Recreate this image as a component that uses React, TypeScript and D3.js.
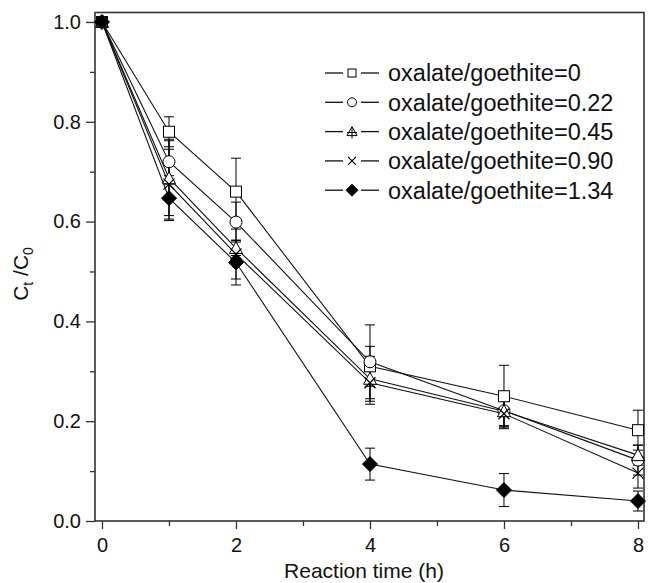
import React, { useEffect, useRef } from "react";
import * as d3 from "d3";

const times = [0, 1, 2, 4, 6, 8];
const seriesNames = [
  "oxalate/goethite=0",
  "oxalate/goethite=0.22",
  "oxalate/goethite=0.45",
  "oxalate/goethite=0.90",
  "oxalate/goethite=1.34",
];
const values0 = [1.0, 0.78, 0.66, 0.31, 0.25, 0.182];
const values1 = [1.0, 0.72, 0.599, 0.319, 0.221, 0.122];
const values2 = [1.0, 0.687, 0.547, 0.285, 0.22, 0.132];
const values3 = [1.0, 0.675, 0.535, 0.277, 0.215, 0.096];
const values4 = [1.0, 0.647, 0.518, 0.114, 0.062, 0.04];
const errors0 = [0, 0.03, 0.067, 0.04, 0.062, 0.04];
const errors1 = [0, 0.045, 0.04, 0.074, 0.03, 0.03];
const errors2 = [0, 0.075, 0.015, 0.045, 0.03, 0.02];
const errors3 = [0, 0.07, 0.05, 0.043, 0.03, 0.03];
const errors4 = [0, 0.045, 0.045, 0.032, 0.033, 0.02];
const markers = ["square", "circle", "triangle", "cross", "diamond"];
const xMajorTicks = [0, 2, 4, 6, 8];
const xMinorTicks = [1, 3, 5, 7];
const yMajorTicks = [0, 0.2, 0.4, 0.6, 0.8, 1.0];
const yMinorTicks = [0.1, 0.3, 0.5, 0.7, 0.9];

const allValues = [values0, values1, values2, values3, values4];
const allErrors = [errors0, errors1, errors2, errors3, errors4];

const W = 649;
const H = 583;
const FONT = "'Liberation Sans', Arial, sans-serif";

function drawMarker(g: any, type: string, cx: number, cy: number, s: number) {
  const stroke = "#000";
  if (type === "square") {
    g.append("rect").attr("x", cx - s / 2).attr("y", cy - s / 2).attr("width", s).attr("height", s)
      .attr("fill", "#fff").attr("stroke", stroke).attr("stroke-width", 1);
  } else if (type === "circle") {
    g.append("circle").attr("cx", cx).attr("cy", cy).attr("r", s / 2 + 0.5)
      .attr("fill", "#fff").attr("stroke", stroke).attr("stroke-width", 1);
  } else if (type === "triangle") {
    const h = s * 1.0;
    g.append("path")
      .attr("d", `M${cx},${cy - h / 2 - 1}L${cx + s / 2 + 1},${cy + h / 2}L${cx - s / 2 - 1},${cy + h / 2}Z`)
      .attr("fill", "#fff").attr("stroke", stroke).attr("stroke-width", 1);
  } else if (type === "cross") {
    const r = s / 2;
    g.append("path")
      .attr("d", `M${cx - r},${cy - r}L${cx + r},${cy + r}M${cx - r},${cy + r}L${cx + r},${cy - r}`)
      .attr("fill", "none").attr("stroke", stroke).attr("stroke-width", 1.2);
  } else if (type === "diamond") {
    const r = s / 2 + 2;
    g.append("path")
      .attr("d", `M${cx},${cy - r}L${cx + r},${cy}L${cx},${cy + r}L${cx - r},${cy}Z`)
      .attr("fill", "#000").attr("stroke", stroke).attr("stroke-width", 1);
  }
}

export default function App() {
  const ref = useRef<SVGSVGElement | null>(null);

  useEffect(() => {
    const svg = d3.select(ref.current);
    svg.selectAll("*").remove();

    const left = 95, right = 644, top = 12.5, bottom = 521;
    const x = d3.scaleLinear().domain([-0.1045, 8.09]).range([left, right]);
    const y = d3.scaleLinear().domain([0, 1.019]).range([bottom, top]);

    svg.append("rect").attr("width", W).attr("height", H).attr("fill", "#fff");

    // axes
    const xAxis = d3.axisBottom(x).tickValues(xMajorTicks).tickSize(8).tickSizeOuter(0)
      .tickFormat((d: any) => d3.format("d")(d));
    const gx = svg.append("g").attr("transform", `translate(0,${bottom})`).call(xAxis);
    gx.select(".domain").remove();
    gx.selectAll("line").attr("stroke", "#333").attr("stroke-width", 1.3);
    gx.selectAll("text").attr("font-family", FONT).attr("font-size", 20).attr("fill", "#111").attr("dy", "1.0em");
    const gxm = svg.append("g").attr("transform", `translate(0,${bottom})`)
      .call(d3.axisBottom(x).tickValues(xMinorTicks).tickSize(5).tickFormat(() => ""));
    gxm.select(".domain").remove();
    gxm.selectAll("line").attr("stroke", "#333").attr("stroke-width", 1.3);

    const yAxis = d3.axisLeft(y).tickValues(yMajorTicks).tickSize(9).tickSizeOuter(0)
      .tickFormat((d: any) => d3.format(".1f")(d));
    const gy = svg.append("g").attr("transform", `translate(${left},0)`).call(yAxis);
    gy.select(".domain").remove();
    gy.selectAll("line").attr("stroke", "#333").attr("stroke-width", 1.3);
    gy.selectAll("text").attr("font-family", FONT).attr("font-size", 20).attr("fill", "#111").attr("x", -14);
    const gym = svg.append("g").attr("transform", `translate(${left},0)`)
      .call(d3.axisLeft(y).tickValues(yMinorTicks).tickSize(5).tickFormat(() => ""));
    gym.select(".domain").remove();
    gym.selectAll("line").attr("stroke", "#333").attr("stroke-width", 1.3);

    // frame
    svg.append("rect").attr("x", left).attr("y", top).attr("width", right - left).attr("height", bottom - top)
      .attr("fill", "none").attr("stroke", "#333").attr("stroke-width", 1.6);

    // axis titles
    svg.append("text").attr("x", 364).attr("y", 578).attr("text-anchor", "middle")
      .attr("font-family", FONT).attr("font-size", 21).attr("fill", "#111").text("Reaction time (h)");
    const yt = svg.append("text").attr("transform", `translate(28,274) rotate(-90)`).attr("text-anchor", "middle")
      .attr("font-family", FONT).attr("font-size", 21).attr("fill", "#111");
    yt.append("tspan").text("C");
    yt.append("tspan").attr("font-size", 14).attr("dy", 5).text("t");
    yt.append("tspan").attr("dy", -5).text(" /C");
    yt.append("tspan").attr("font-size", 14).attr("dy", 5).text("0");

    const line = d3.line<number>().x((_d, i) => x(times[i])).y((d) => y(d));
    const plot = svg.append("g");

    // error bars
    allValues.forEach((vals, si) => {
      const errs = allErrors[si];
      vals.forEach((v, i) => {
        const e = errs[i];
        if (e <= 0) return;
        const cx = x(times[i]);
        plot.append("line").attr("x1", cx).attr("x2", cx).attr("y1", y(v - e)).attr("y2", y(v + e))
          .attr("stroke", "#000").attr("stroke-width", 1);
        [v - e, v + e].forEach((yy) => {
          plot.append("line").attr("x1", cx - 5).attr("x2", cx + 5).attr("y1", y(yy)).attr("y2", y(yy))
            .attr("stroke", "#000").attr("stroke-width", 1);
        });
      });
    });

    // lines
    allValues.forEach((vals) => {
      plot.append("path").attr("d", line(vals) as string).attr("fill", "none")
        .attr("stroke", "#111").attr("stroke-width", 1.1);
    });

    // markers
    allValues.forEach((vals, si) => {
      vals.forEach((v, i) => drawMarker(plot, markers[si], x(times[i]), y(v), 11));
    });

    // legend
    const lg = svg.append("g");
    seriesNames.forEach((name, i) => {
      const cy = 73 + i * 29.3;
      lg.append("line").attr("x1", 325).attr("x2", 343).attr("y1", cy).attr("y2", cy).attr("stroke", "#111").attr("stroke-width", 1.3);
      lg.append("line").attr("x1", 361).attr("x2", 379).attr("y1", cy).attr("y2", cy).attr("stroke", "#111").attr("stroke-width", 1.3);
      drawMarker(lg, markers[i], 352, cy, 8);
      if (markers[i] === "triangle") {
        lg.append("line").attr("x1", 352).attr("x2", 352).attr("y1", cy - 4).attr("y2", cy + 7).attr("stroke", "#000").attr("stroke-width", 1);
        lg.append("line").attr("x1", 347).attr("x2", 357).attr("y1", cy + 1).attr("y2", cy + 1).attr("stroke", "#000").attr("stroke-width", 1);
      }
      lg.append("text").attr("x", 388).attr("y", cy).attr("dy", "0.36em")
        .attr("font-family", FONT).attr("font-size", 23.5).attr("fill", "#111").text(name);
    });
  }, []);

  return (
    <svg ref={ref} width={W} height={H} style={{ position: "absolute", left: 0, top: 0, display: "block" }} />
  );
}
